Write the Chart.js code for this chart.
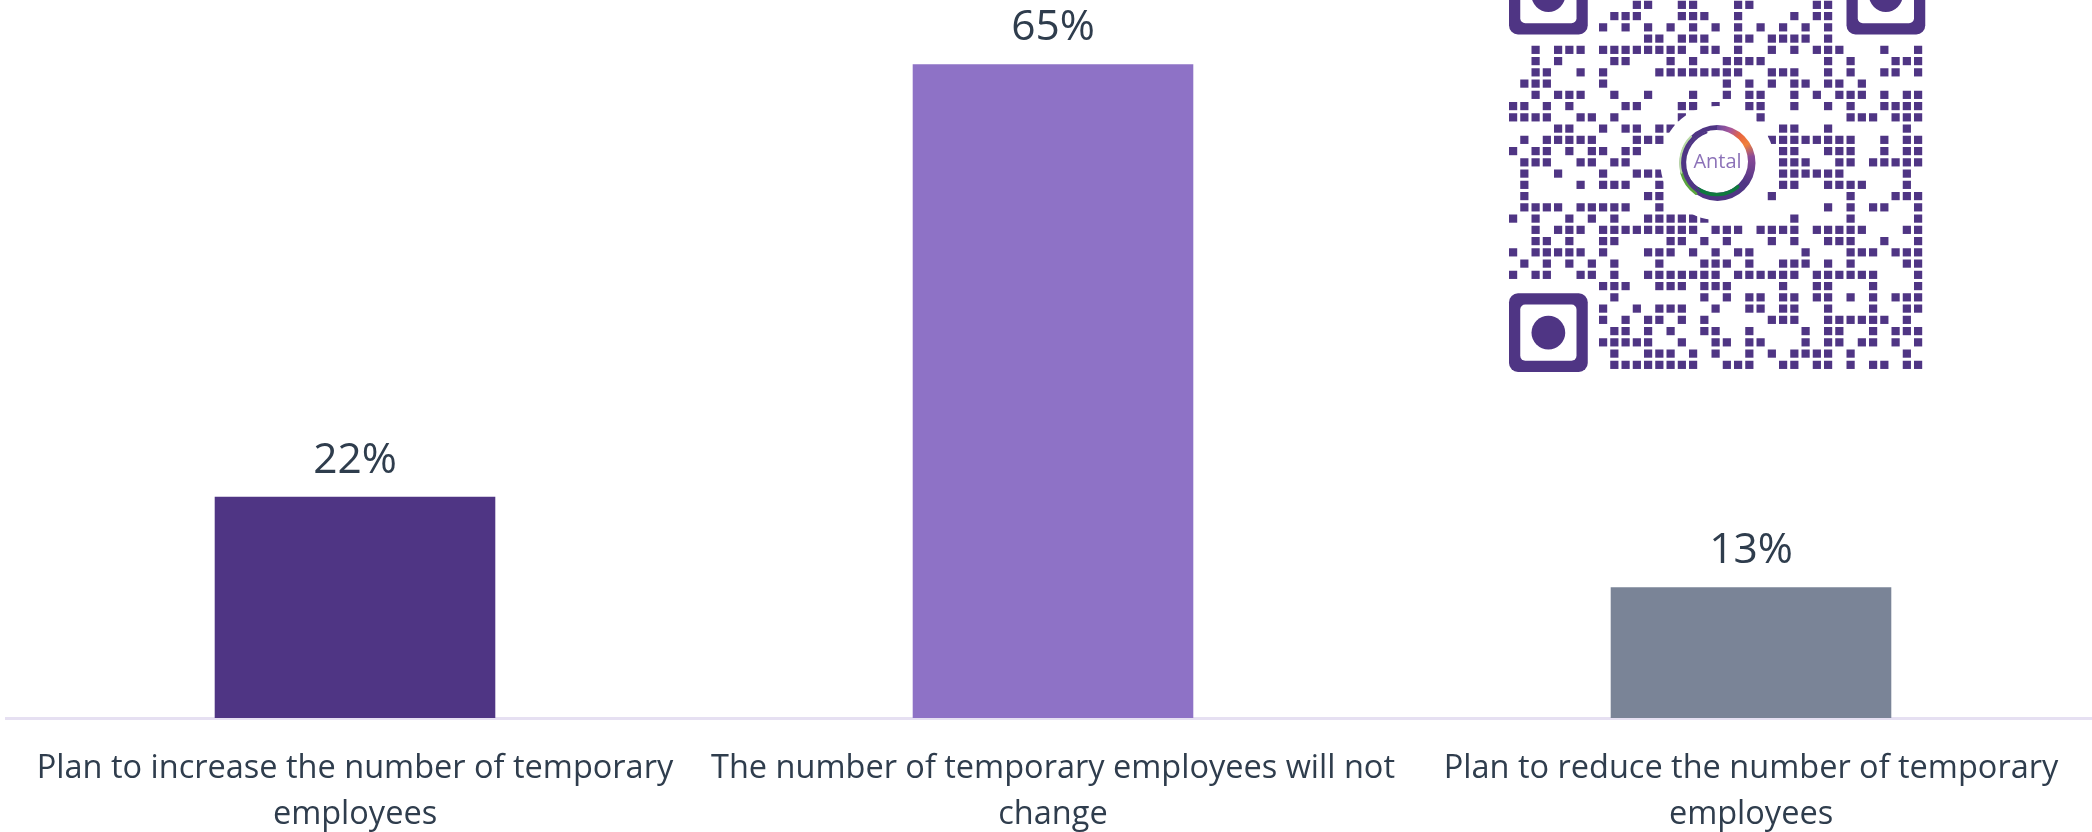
<!DOCTYPE html>
<html>
<head>
<meta charset="utf-8">
<style>
  html, body { margin: 0; padding: 0; background: #ffffff; overflow: hidden; }
  #wrap { width: 2101px; height: 832px; }
</style>
<script src="https://cdn.jsdelivr.net/npm/chart.js@4/dist/chart.umd.min.js"></script>
</head>
<body>
<div id="wrap"><canvas id="chart"></canvas></div>
<script>
const categories = [
  ['Plan to increase the number of temporary', 'employees'],
  ['The number of temporary employees will not', 'change'],
  ['Plan to reduce the number of temporary', 'employees']
];
const values = [22, 65, 13];
const barColors = ['#4F3584', '#8E72C6', '#7A8497'];

// Dark modules of the survey QR code, listed as columns per row, starting at row 4.
const qrFirstRow = 4;
const qrRows = [
  [11,12,15,16,20,21,27,28],
  [9,10,11,15,16,17,20,25,27,28],
  [8,10,12,14,16,18,20,22,24,26,28],
  [12,13,15,16,17,20,21,23,24,25,26,28],
  [2,4,5,6,8,9,10,11,12,13,14,15,17,18,20,23,25,27,28,29,33,36],
  [2,4,9,10,14,16,19,20,21,22,28,30,34,35,36],
  [2,3,6,8,13,14,15,16,17,18,19,20,23,24,25,28,30,33,34,36],
  [1,2,3,8,19,21,23,25,26,28,29,31],
  [2,4,5,6,9,12,16,19,21,22,25,27,29,30,31,33,35,36],
  [0,1,3,5,10,11,15,16,18,21,22,25,28,30,33,34,35,36],
  [0,1,2,3,6,7,9,15,22,30,31,32,34,35,36],
  [4,5,8,10,11,13,14,24,25,28,35],
  [1,3,4,5,6,7,11,12,13,23,24,25,26,27,28,29,30,33,35,36],
  [0,2,3,5,7,8,10,11,24,25,28,29,30,33,35,36],
  [1,2,3,6,7,9,10,24,25,26,29,30,32,33,34,35,36],
  [1,4,8,11,12,13,24,25,26,27,28,29,35],
  [1,6,8,9,10,13,24,25,28,29,30,31,35],
  [1,12,13,23,30,34,35,36],
  [1,2,3,4,6,7,8,9,10,13,28,30,32,33,36],
  [0,2,5,7,9,12,13,14,15,16,17,25,30,36],
  [2,4,5,6,8,9,10,11,12,13,14,15,16,18,19,20,22,23,24,25,27,28,29,30,31,35,36],
  [2,3,5,8,9,14,15,17,19,23,25,28,29,30,33,36],
  [0,2,3,4,5,6,8,12,13,14,16,18,20,21,26,30,31,32,34,35,36],
  [1,3,5,7,9,13,17,18,19,21,24,25,26,28,30,35,36],
  [0,2,3,6,7,9,12,13,14,15,16,17,18,20,21,22,23,24,25,27,28,29,30,31,32,36],
  [8,9,10,13,14,15,17,18,19,24,27,28,32,36],
  [9,17,19,21,22,24,25,27,28,30,32,34,35,36],
  [8,11,13,14,15,18,21,22,24,25,28,32,35,36],
  [8,10,12,13,15,17,23,24,25,28,29,30,31,32,33,35],
  [9,10,12,14,17,18,21,26,28,29,32,34,35,36],
  [8,9,10,11,12,15,18,19,21,22,26,28,29,31,32,34,36],
  [9,12,13,14,16,18,21,23,25,26,27,28,30,35],
  [9,10,11,12,13,14,15,16,19,20,21,24,25,27,28,30,32,33,35,36]
];
// Finder patterns, as [column, row] of their top-left module.
const qrFinders = [[0, 0], [30, 0], [0, 30]];

const INK = '#2F3D4D';
const QR_COLOR = '#4F3584';
const FONT = '"Open Sans", sans-serif';

function roundedRect(ctx, x, y, w, h, r) {
  ctx.beginPath();
  ctx.roundRect(x, y, w, h, r);
  ctx.fill();
}

function arcStroke(ctx, x, y, r, from, to, width, color) {
  const rad = Math.PI / 180;
  ctx.strokeStyle = color;
  ctx.lineWidth = width;
  ctx.lineCap = 'round';
  ctx.beginPath();
  ctx.arc(x, y, r, from * rad, to * rad);
  ctx.stroke();
}

// Writes each bar's percentage just above the bar.
const valueLabels = {
  id: 'valueLabels',
  afterDatasetsDraw(chart) {
    const { ctx } = chart;
    const bars = chart.getDatasetMeta(0).data;
    ctx.save();
    ctx.fillStyle = INK;
    ctx.font = '42.5px ' + FONT;
    ctx.textAlign = 'center';
    ctx.textBaseline = 'alphabetic';
    bars.forEach((bar, i) => ctx.fillText(values[i] + '%', bar.x, bar.y - 24));
    ctx.restore();
  }
};

// QR code with the company ring in its centre.
const qrCode = {
  id: 'qrCode',
  afterDraw(chart) {
    const { ctx } = chart;
    const originX = 1509, originY = -44.25, pitch = 11.25, dot = 8.2;
    ctx.save();
    ctx.fillStyle = QR_COLOR;
    qrRows.forEach((cols, i) => {
      const y = originY + (qrFirstRow + i) * pitch;
      cols.forEach(c => ctx.fillRect(originX + c * pitch, y, dot, dot));
    });
    qrFinders.forEach(([c, r]) => {
      const x = originX + c * pitch, y = originY + r * pitch;
      ctx.fillStyle = QR_COLOR;
      roundedRect(ctx, x, y, 7 * pitch, 7 * pitch, 9);
      ctx.fillStyle = '#ffffff';
      roundedRect(ctx, x + pitch, y + pitch, 5 * pitch, 5 * pitch, 5);
      ctx.fillStyle = QR_COLOR;
      ctx.beginPath();
      ctx.arc(x + 3.5 * pitch, y + 3.5 * pitch, 1.5 * pitch, 0, Math.PI * 2);
      ctx.fill();
    });

    const cx = 1717.5, cy = 163;
    ctx.fillStyle = '#ffffff';
    ctx.beginPath();
    ctx.arc(cx, cy, 57, 0, Math.PI * 2);
    ctx.fill();

    // Crescent-shaped ring: thick on the right and bottom, thin on the left.
    const ring = ctx.createConicGradient(-Math.PI / 2, cx, cy);
    ring.addColorStop(0.00, '#6A4A9C');
    ring.addColorStop(0.06, '#A9579A');
    ring.addColorStop(0.11, '#E8663F');
    ring.addColorStop(0.16, '#F0813A');
    ring.addColorStop(0.22, '#8A4A98');
    ring.addColorStop(0.35, '#4F3584');
    ring.addColorStop(1.00, '#4F3584');
    ctx.fillStyle = ring;
    ctx.beginPath();
    ctx.arc(cx, cy, 38, 0, Math.PI * 2);
    ctx.arc(cx - 1, cy - 1.5, 31.5, 0, Math.PI * 2);
    ctx.fill('evenodd');

    arcStroke(ctx, cx - 1, cy - 1.5, 33, 50, 125, 3.6, '#0E7A3E');
    arcStroke(ctx, cx, cy, 37.4, 125, 165, 2.6, '#5CA53F');
    arcStroke(ctx, cx, cy, 37.4, 165, 225, 2, '#B9DAA6');
    arcStroke(ctx, cx, cy, 32.4, 125, 250, 2.2, '#4F3584');

    ctx.fillStyle = '#8C72B8';
    ctx.font = '20px ' + FONT;
    ctx.textAlign = 'center';
    ctx.textBaseline = 'middle';
    ctx.fillText('Antal', cx, cy - 1);
    ctx.restore();
  }
};

new Chart(document.getElementById('chart'), {
  type: 'bar',
  data: {
    labels: categories,
    datasets: [{
      data: values,
      backgroundColor: barColors,
      borderWidth: 0,
      barPercentage: 0.402,
      categoryPercentage: 1
    }]
  },
  options: {
    responsive: true,
    maintainAspectRatio: false,
    animation: false,
    layout: { padding: { left: 6, right: 1, top: 14, bottom: 0 } },
    plugins: {
      legend: { display: false },
      title: { display: false },
      tooltip: { enabled: false }
    },
    scales: {
      y: { display: false, min: 0, max: 70 },
      x: {
        afterFit(scale) { scale.height = 114; },
        grid: { display: false, drawTicks: false },
        border: { display: true, color: '#E6E0F2', width: 3 },
        ticks: {
          autoSkip: false,
          maxRotation: 0,
          minRotation: 0,
          padding: 27,
          color: INK,
          font: { family: FONT, size: 32.5, lineHeight: 1.44 }
        }
      }
    }
  },
  plugins: [valueLabels, qrCode]
});
</script>
</body>
</html>
